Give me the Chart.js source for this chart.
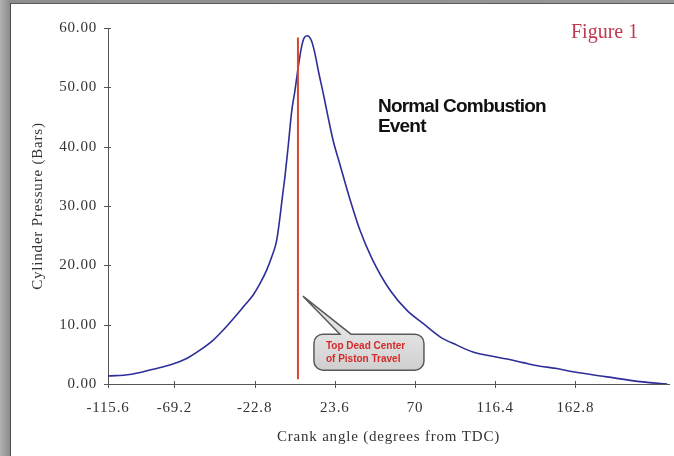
<!DOCTYPE html>
<html>
<head>
<meta charset="utf-8">
<script src="https://cdn.jsdelivr.net/npm/chart.js@4.4.1/dist/chart.umd.min.js"></script>
<style>
  html, body { margin: 0; padding: 0; width: 674px; height: 456px; overflow: hidden; }
  body { background: linear-gradient(to right, #b2b2b2 0px, #8e8e8e 9px, #979797 100%); }
  #frame {
    position: absolute; left: 10px; top: 3px; width: 663px; height: 452px;
    background: #fff; border-left: 1px solid #4a4a4a; border-top: 1px solid #5a5a5a;
  }
</style>
</head>
<body>
<div id="frame"><canvas id="pressureChart"></canvas></div>
<script>
// Cylinder pressure trace
const crankAngle = [
  -107.6, -94.9, -83.3, -71.8, -62.1, -54.4, -46.7, -40.9, -35.1, -29.3,
  -23.6, -19.7, -15.8, -12.9, -10.0, -7.9, -6.5, -5.2, -3.3, -1.3,
  0.6, 2.5, 4.5, 5.8, 7.7, 10.2, 12.2, 14.1, 17.0, 19.8,
  22.7, 26.6, 31.4, 38.2, 45.7, 55.6, 65.4, 74.7, 84.5, 94.3,
  103.6, 113.4, 123.3, 132.5, 142.4, 152.2, 161.5, 181.1, 200.2, 215.9
];
const pressure = [
  1.35, 1.6, 2.35, 3.2, 4.3, 5.7, 7.4, 9.1, 11.0, 13.0,
  15.0, 16.9, 19.2, 21.4, 24.2, 28.6, 32.0, 35.0, 40.2, 46.0,
  49.5, 53.5, 57.0, 58.3, 58.7, 57.8, 55.6, 52.8, 48.9, 44.9,
  41.0, 37.0, 32.1, 25.9, 20.8, 15.8, 12.4, 10.2, 7.95, 6.55,
  5.4, 4.75, 4.2, 3.6, 3.0, 2.6, 2.05, 1.2, 0.4, 0.0
];

// Top dead center marker
const tdcAngle = 2.3;
const tdcPressure = [0.8, 58.4];

const xTickLabels = ['-115.6', '-69.2', '-22.8', '23.6', '70', '116.4', '162.8'];
const xRange = [-107.6, 217];
const yRange = [0, 60];

const calloutText = ['Top Dead Center', 'of Piston Travel'];
const calloutAt = [5.2, 14.8];
const eventText = ['Normal Combustion', 'Event'];
const eventAt = [48.6, 45.9];
const figureLabel = 'Figure 1';

const serif = "'Liberation Serif', 'Times New Roman', serif";
const sans = "'Liberation Sans', Arial, sans-serif";

const decor = {
  id: 'decor',
  beforeDraw(chart) {
    chart.ctx.letterSpacing = '0.8px';
  },
  afterDraw(chart) {
    const ctx = chart.ctx;
    const xs = chart.scales.x, ys = chart.scales.y;
    const area = chart.chartArea;
    ctx.save();
    ctx.letterSpacing = '0px';

    // tick marks crossing the axes
    ctx.strokeStyle = '#555';
    ctx.lineWidth = 1;
    ctx.beginPath();
    ys.ticks.forEach(t => {
      const py = Math.round(ys.getPixelForValue(t.value)) + 0.5;
      ctx.moveTo(area.left - 4, py);
      ctx.lineTo(area.left + 3, py);
    });
    xs.ticks.forEach(t => {
      const px = Math.round(xs.getPixelForValue(t.value)) + 0.5;
      ctx.moveTo(px, area.bottom - 3);
      ctx.lineTo(px, area.bottom + 4);
    });
    ctx.stroke();

    // callout pointing at the TDC line
    const tx = xs.getPixelForValue(calloutAt[0]);
    const ty = ys.getPixelForValue(calloutAt[1]);
    const bx = tx + 11, by = ty + 38, bw = 110, bh = 36, r = 9;
    ctx.beginPath();
    ctx.moveTo(bx + r, by);
    ctx.lineTo(tx + 37, by);
    ctx.lineTo(tx, ty);
    ctx.lineTo(tx + 48, by);
    ctx.arcTo(bx + bw, by, bx + bw, by + bh, r);
    ctx.arcTo(bx + bw, by + bh, bx, by + bh, r);
    ctx.arcTo(bx, by + bh, bx, by, r);
    ctx.arcTo(bx, by, bx + bw, by, r);
    ctx.closePath();
    const grad = ctx.createLinearGradient(0, by, 0, by + bh);
    grad.addColorStop(0, '#e2e2e2');
    grad.addColorStop(1, '#cfcfcf');
    ctx.fillStyle = grad;
    ctx.fill();
    ctx.strokeStyle = '#5a5a5a';
    ctx.lineWidth = 1.5;
    ctx.stroke();

    ctx.font = 'bold 10px ' + sans;
    ctx.fillStyle = '#d42a2a';
    ctx.textAlign = 'left';
    ctx.textBaseline = 'middle';
    ctx.fillText(calloutText[0], tx + 23, ty + 50);
    ctx.fillText(calloutText[1], tx + 23, ty + 63);

    // event label
    ctx.font = 'bold 19px ' + sans;
    ctx.letterSpacing = '-0.8px';
    ctx.fillStyle = '#111';
    ctx.textBaseline = 'alphabetic';
    const ex = xs.getPixelForValue(eventAt[0]);
    const ey = ys.getPixelForValue(eventAt[1]);
    eventText.forEach((line, i) => ctx.fillText(line, ex, ey + i * 20));

    // figure tag
    ctx.letterSpacing = '0px';
    ctx.font = '20px ' + serif;
    ctx.fillStyle = '#c0394f';
    ctx.fillText(figureLabel, area.right - 98, area.top + 10);
    ctx.restore();
  }
};

new Chart(document.getElementById('pressureChart'), {
  type: 'line',
  data: {
    datasets: [
      {
        label: 'TDC',
        data: tdcPressure.map(p => ({ x: tdcAngle, y: p })),
        borderColor: '#d9452b',
        borderWidth: 2,
        pointRadius: 0,
      },
      {
        label: 'Cylinder Pressure',
        data: crankAngle.map((a, i) => ({ x: a, y: pressure[i] })),
        borderColor: '#2e2e98',
        borderWidth: 1.6,
        pointRadius: 0,
        cubicInterpolationMode: 'monotone',
      },
    ],
  },
  options: {
    responsive: true,
    maintainAspectRatio: false,
    devicePixelRatio: 1,
    animation: false,
    layout: { padding: { top: 24, right: 5, left: 0, bottom: 0 } },
    plugins: {
      legend: { display: false },
      tooltip: { enabled: false },
    },
    scales: {
      x: {
        type: 'linear',
        min: xRange[0],
        max: xRange[1],
        afterBuildTicks: (scale) => {
          scale.ticks = xTickLabels.map((l, i) => ({ value: i === 0 ? scale.min : parseFloat(l) }));
        },
        afterFit: (scale) => { scale.height = 72; },
        grid: { display: false, drawTicks: false },
        border: { display: true, color: '#555', width: 1 },
        ticks: {
          autoSkip: false,
          maxRotation: 0,
          minRotation: 0,
          padding: 15,
          color: '#333',
          font: { family: serif, size: 15 },
          callback: (v, i) => xTickLabels[i],
        },
        title: {
          display: true,
          text: 'Crank angle (degrees from TDC)',
          color: '#333',
          font: { family: serif, size: 15 },
          padding: { top: 0, bottom: 10 },
        },
      },
      y: {
        min: yRange[0],
        max: yRange[1],
        afterFit: (scale) => { scale.width = 97; },
        grid: { display: false, drawTicks: false },
        border: { display: true, color: '#555', width: 1 },
        ticks: {
          stepSize: 10,
          padding: 11,
          color: '#333',
          font: { family: serif, size: 15 },
          callback: (v) => v.toFixed(2),
        },
        title: {
          display: true,
          text: 'Cylinder Pressure (Bars)',
          color: '#333',
          font: { family: serif, size: 15 },
          padding: { top: 18, bottom: 0 },
        },
      },
    },
  },
  plugins: [decor],
});
</script>
</body>
</html>
